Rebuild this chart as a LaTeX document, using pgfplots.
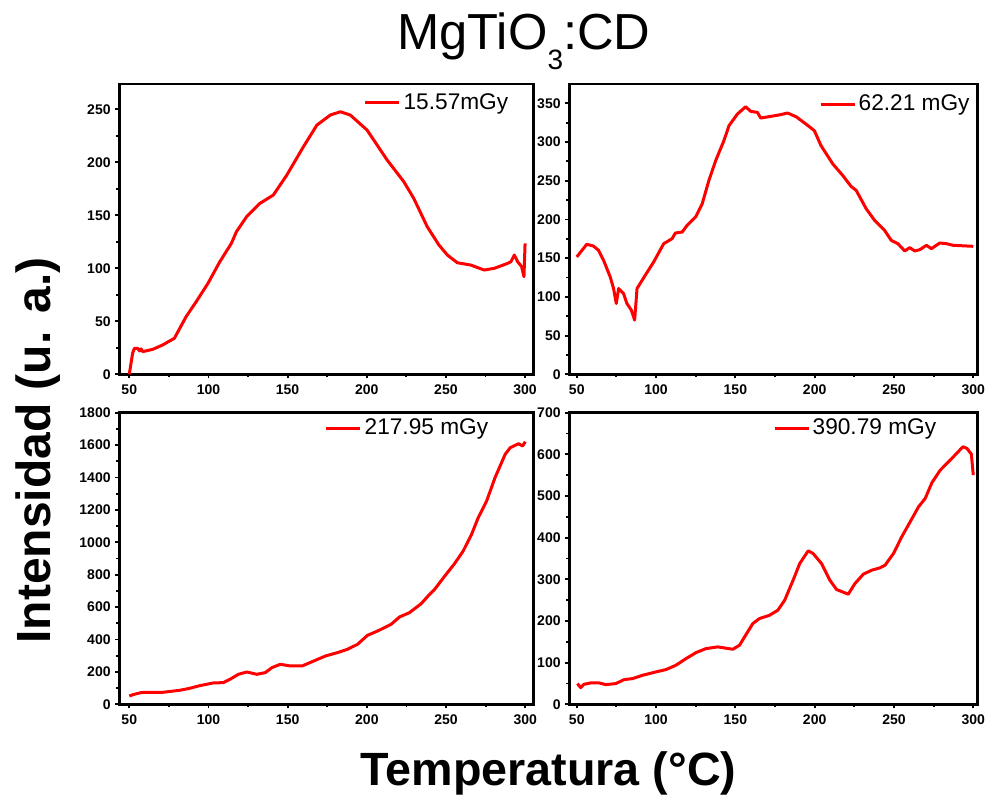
\documentclass[border=0pt]{standalone}
\usepackage{fontspec}
\setmainfont{Liberation Sans}
\usepackage{pgfplots}
\pgfplotsset{compat=1.18}
\definecolor{curvered}{RGB}{255,0,0}
\pgfplotsset{
  panel/.style={
    scale only axis,
    anchor=south west,
    axis line style={line width=2.1pt},
    tick align=outside,
    xtick pos=bottom, ytick pos=left,
    major tick length=3pt, minor tick length=2.2pt,
    tick style={line width=1.4pt, black},
    minor tick num=1,
    xtick={50,100,...,300},
    ticklabel style={font=\bfseries\fontsize{10.5}{12}\selectfont},
    /pgf/number format/assume math mode=true,
    /pgf/number format/1000 sep={},
    scaled ticks=false,
    xticklabel style={yshift=-1pt},
    every axis plot post/.append style={curvered, line width=2.25pt, line join=round, mark=none},
    legend image code/.code={\draw[#1,line width=2.25pt] (0pt,0pt) -- (25.5pt,0pt);},
    legend style={draw=none, fill=none, inner sep=0pt, outer sep=0pt,
      font=\fontsize{17}{20}\selectfont, anchor=west, nodes={inner sep=2pt}},
  }
}
\begin{document}
\begin{tikzpicture}
\useasboundingbox (0pt,0pt) rectangle (738.75pt,596.25pt);
% Panel 1
\begin{axis}[panel, at={(89.475pt,315.525pt)}, width=310.5pt, height=217.725pt,
  xmin=43.7, xmax=305.2, ymin=0, ymax=274, ytick={0,50,...,250},
  legend style={at={(rel axis cs:0.591,0.9346)}}]
\addplot coordinates {
(50,0) (52.1,19.8) (53.2,24.5) (55.3,24.5) (56.5,22) (57.5,24) (58.5,21.4) (64.9,23.6) (71.1,27.7) (78.5,34)
(85.9,54.4) (92.3,68.6) (99.7,85.8) (107.1,106) (114.5,123.6) (117.7,134.6) (124.1,148.7)
(132.5,161.3) (141,169.2) (149.5,188) (160,214.8) (168.5,235.2) (177,244.7) (183.3,247.8)
(189.6,244.7) (200.2,230.5) (212.9,202.2) (223.4,181.8) (229.7,166) (238.2,139.3) (245.6,122)
(250.9,112.6) (257.2,105.3) (265.7,103.1) (274.2,98.4) (280.5,100) (289,104.7) (291.1,106.3)
(293.2,112.6) (295.3,106.3) (297.8,101.6) (299.3,92.1) (300,123.6)
};
\addlegendentry{15.57mGy}
\end{axis}
% Panel 2
\begin{axis}[panel, at={(426.975pt,315.525pt)}, width=306.3pt, height=217.725pt,
  xmin=45.3, xmax=302.8, ymin=0, ymax=375, ytick={0,50,...,350},
  legend style={at={(rel axis cs:0.6114,0.931)}}]
\addplot coordinates {
(50,151.6) (56.3,167.9) (60.5,165.7) (63.7,160.2) (66.9,147.3) (71.1,125.8) (73.2,110.8)
(74.9,91.5) (76.4,110.8) (79.5,104.3) (81.6,91.5) (84.4,82.9) (86.5,70) (88,110.8) (93.2,128)
(98.5,145.1) (104.8,168.7) (110.1,175.2) (112.2,182.5) (116.5,183.8) (119.6,192.4) (124.9,203.1)
(129.1,220.3) (133.3,250.3) (137.6,276.1) (142.8,301.9) (146,321.2) (151.3,336.2) (156.5,345.6)
(159.7,339.6) (163.9,338.3) (166,331) (171.3,332.8) (177.6,335) (182.9,337.5) (188.2,332.8)
(194.5,323.3) (199.8,314.7) (204,295.4) (211.4,271.8) (217.7,256.8) (223,242.6) (226.2,237.5)
(232.5,213.8) (237.8,198.8) (244.1,185.9) (248.3,173) (252.5,168.7) (256.8,159.3) (259.9,163.6)
(263.1,159.3) (266.3,161) (270.5,166.6) (273.6,162.3) (278.9,169.6) (283.1,168.7) (287.3,166.6)
(300,165.3)
};
\addlegendentry{62.21 mGy}
\end{axis}
% Panel 3
\begin{axis}[panel, at={(89.475pt,68.025pt)}, width=310.65pt, height=218.7pt,
  xmin=43.7, xmax=305.2, ymin=0, ymax=1800, ytick={0,200,...,1800},
  legend style={at={(rel axis cs:0.4966,0.9475)}}]
\addplot coordinates {
(50,51.4) (53.2,61.7) (57.4,72) (60.6,74) (71.2,74) (81.8,86.4) (88.1,98.7) (94.5,115)
(103,131.7) (109.3,133.7) (113.6,154.3) (118.9,185.1) (124.2,199.5) (130.5,185.1) (135.8,195.4)
(140.1,226.3) (145.3,246.9) (151.7,236.6) (159.1,236.6) (166.5,267.4) (173.9,298.3) (181.4,318.9)
(187.7,339.4) (194.1,370.3) (200.4,425.8) (206.8,452.6) (215.3,493.7) (220.6,539) (226.9,565.7)
(234.3,621.3) (239.6,678.9) (242.8,709.7) (249.2,792) (255.5,870.2) (260.8,946.3) (266.1,1049.2)
(270.3,1152) (275.6,1254.9) (280.9,1398.9) (287.3,1542.9) (290.5,1584) (295.8,1608.7)
(298.3,1594.3) (300,1621)
};
\addlegendentry{217.95 mGy}
\end{axis}
% Panel 4
\begin{axis}[panel, at={(426.975pt,68.025pt)}, width=306.3pt, height=218.7pt,
  xmin=45.3, xmax=302.8, ymin=0, ymax=700, ytick={0,100,...,700},
  legend style={at={(rel axis cs:0.4988,0.9475)}}]
\addplot coordinates {
(50.4,49.7) (52.5,40) (54.6,48) (58.8,51.3) (64.1,51.3) (68.3,47.3) (74.6,49.7) (79.9,59.3)
(85.2,61.7) (91.5,69.7) (99.9,77.7) (106.2,83.3) (112.5,93.7) (118.9,109.7) (125.2,124.1)
(131.5,133.7) (138.9,137.8) (148.4,132.1) (152.6,141.8) (161,193.8) (165.2,205.8) (171.6,213.8)
(176.8,225.9) (181.1,249.9) (186.4,297.9) (190.6,338) (195.9,368.4) (199,362) (204.3,338)
(209.6,297.9) (213.8,275.5) (221.2,264.3) (225.4,289.9) (230.7,312.4) (236,322) (241.2,327.6)
(244.4,334) (249.7,362) (254.9,402) (260.2,438) (265.5,474.1) (269.7,494.2) (273.9,531.8)
(279.2,562.2) (285.5,586.3) (290.5,606.3) (293.5,618.3) (296,614.3) (298.8,600.7) (300,550.2)
};
\addlegendentry{390.79 mGy}
\end{axis}
% Titles
\node[anchor=base, inner sep=0pt] at (393pt,558.75pt)
  {\fontsize{38}{44}\selectfont MgTiO\raisebox{-15pt}{\fontsize{21}{24}\selectfont 3}:CD};
\node[anchor=base, rotate=90, inner sep=0pt] at (37.5pt,258.4pt)
  {\fontsize{36}{42}\selectfont\bfseries Intensidad (u. a.)};
\node[anchor=base, inner sep=0pt] at (411.4pt,7pt)
  {\fontsize{35}{40}\selectfont\bfseries Temperatura (°C)};
\end{tikzpicture}
\end{document}
